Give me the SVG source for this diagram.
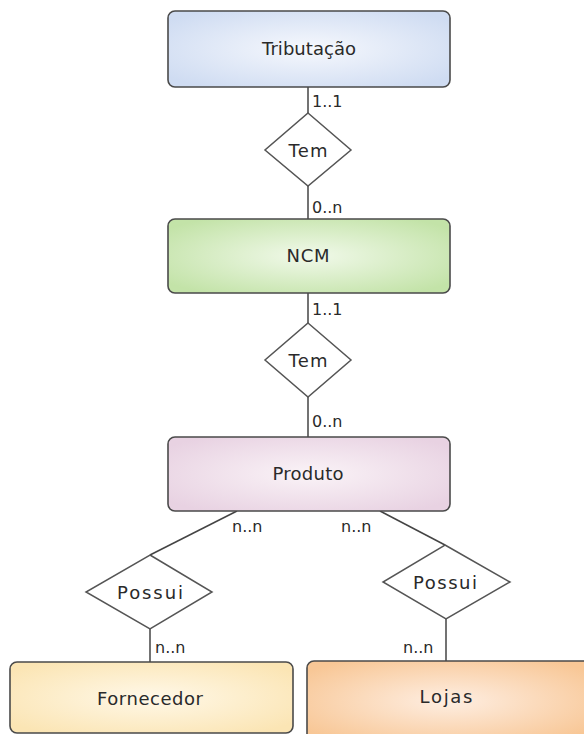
<svg xmlns="http://www.w3.org/2000/svg" width="584" height="734" viewBox="0 0 584 734">
<style>
.box{stroke:#4a4a4a;stroke-width:1.6}
.dia{fill:#fff;stroke:#555;stroke-width:1.5}
.con{stroke:#444;stroke-width:1.5;fill:none}
.name{font-family:"DejaVu Sans",Verdana,sans-serif;font-size:18px;fill:#2a2a2a;text-anchor:middle}
.lbl{font-family:"DejaVu Sans",Verdana,sans-serif;font-size:16px;fill:#2a2a2a}
</style>
<defs>
<radialGradient id="gBlue" cx="0.5" cy="0.5" r="0.62"><stop offset="0" stop-color="#f6f8fd"/><stop offset="1" stop-color="#cfdcf2"/></radialGradient>
<radialGradient id="gGreen" cx="0.5" cy="0.5" r="0.62"><stop offset="0" stop-color="#f1f9ea"/><stop offset="1" stop-color="#c3e3a8"/></radialGradient>
<radialGradient id="gPink" cx="0.5" cy="0.5" r="0.62"><stop offset="0" stop-color="#faf3f7"/><stop offset="1" stop-color="#e8d2e2"/></radialGradient>
<radialGradient id="gCream" cx="0.5" cy="0.5" r="0.62"><stop offset="0" stop-color="#fff8e8"/><stop offset="1" stop-color="#fbe5b4"/></radialGradient>
<radialGradient id="gOrange" cx="0.5" cy="0.5" r="0.62"><stop offset="0" stop-color="#feeee2"/><stop offset="1" stop-color="#f8c796"/></radialGradient>
</defs>
<g id="connectors">
<line class="con" x1="308" y1="87" x2="308" y2="113"/>
<line class="con" x1="308" y1="186" x2="308" y2="219"/>
<line class="con" x1="308" y1="293" x2="308" y2="323"/>
<line class="con" x1="308" y1="397" x2="308" y2="437"/>
<line class="con" x1="237" y1="511" x2="150" y2="555"/>
<line class="con" x1="380" y1="511" x2="445" y2="545"/>
<line class="con" x1="150" y1="629" x2="150" y2="662"/>
<line class="con" x1="446" y1="619" x2="446" y2="661"/>
<text class="lbl" x="312" y="107">1..1</text>
<text class="lbl" x="312" y="213">0..n</text>
<text class="lbl" x="312" y="315">1..1</text>
<text class="lbl" x="312" y="427">0..n</text>
<text class="lbl" x="232" y="532">n..n</text>
<text class="lbl" x="341" y="532">n..n</text>
<text class="lbl" x="155" y="653">n..n</text>
<text class="lbl" x="403" y="653">n..n</text>
</g>
<g id="tributacao">
<rect class="box" x="168" y="11" width="282" height="76" rx="7" fill="url(#gBlue)"/>
<text class="name" x="309" y="55" textLength="94" lengthAdjust="spacing">Tributação</text>
</g>
<g id="tem1">
<polygon class="dia" points="308,113 351,150 308,186 265,150"/>
<text class="name" x="308" y="157" textLength="39" lengthAdjust="spacing">Tem</text>
</g>
<g id="ncm">
<rect class="box" x="168" y="219" width="282" height="74" rx="7" fill="url(#gGreen)"/>
<text class="name" x="308" y="262" textLength="43" lengthAdjust="spacing">NCM</text>
</g>
<g id="tem2">
<polygon class="dia" points="308,323 351,360 308,397 265,360"/>
<text class="name" x="308" y="367" textLength="39" lengthAdjust="spacing">Tem</text>
</g>
<g id="produto">
<rect class="box" x="168" y="437" width="282" height="74" rx="7" fill="url(#gPink)"/>
<text class="name" x="308" y="480" textLength="71" lengthAdjust="spacing">Produto</text>
</g>
<g id="possui1">
<polygon class="dia" points="150,555 212,592 150,629 86,592"/>
<text class="name" x="150" y="599" textLength="66" lengthAdjust="spacing">Possui</text>
</g>
<g id="possui2">
<polygon class="dia" points="445,545 510,582 446,619 383,582"/>
<text class="name" x="445" y="589" textLength="64" lengthAdjust="spacing">Possui</text>
</g>
<g id="fornecedor">
<rect class="box" x="10" y="662" width="283" height="71" rx="7" fill="url(#gCream)"/>
<text class="name" x="150" y="705" textLength="106" lengthAdjust="spacing">Fornecedor</text>
</g>
<g id="lojas">
<rect class="box" x="307" y="661" width="283" height="80" rx="7" fill="url(#gOrange)"/>
<text class="name" x="446" y="703" textLength="53" lengthAdjust="spacing">Lojas</text>
</g>
</svg>
